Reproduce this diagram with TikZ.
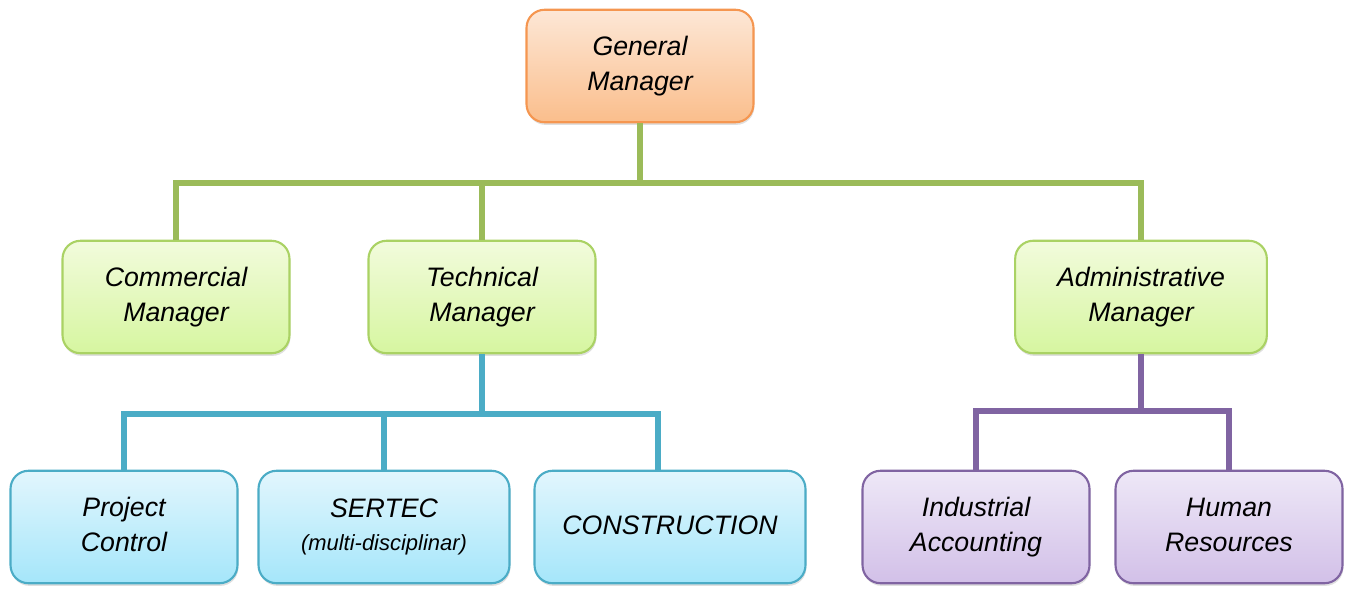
\documentclass[tikz,border=0pt]{standalone}
\usepackage{fontspec}
\setmainfont{Liberation Sans}
\usepackage{tikz}
\usetikzlibrary{shadows}

\definecolor{gmborder}{RGB}{245,150,80}
\definecolor{gmtop}{RGB}{253,231,214}
\definecolor{gmbot}{RGB}{250,190,140}
\definecolor{mgborder}{RGB}{170,210,100}
\definecolor{mgtop}{RGB}{242,251,220}
\definecolor{mgbot}{RGB}{214,246,160}
\definecolor{tcborder}{RGB}{75,172,198}
\definecolor{tctop}{RGB}{226,246,253}
\definecolor{tcbot}{RGB}{165,230,250}
\definecolor{adborder}{RGB}{128,100,162}
\definecolor{adtop}{RGB}{238,232,247}
\definecolor{adbot}{RGB}{210,192,232}
\definecolor{greenline}{RGB}{155,187,89}
\definecolor{blueline}{RGB}{75,172,198}
\definecolor{purpleline}{RGB}{128,100,162}

\begin{document}
\begin{tikzpicture}[x=0.02cm, y=-0.02cm,
    box/.style={rounded corners=0.36cm, line width=1.2pt, align=center,
        minimum height=2.25cm, text width=4.2cm,
        font=\itshape\fontsize{15.2}{20}\selectfont,
        execute at begin node=\strut, execute at end node=\strut,
        drop shadow={shadow xshift=0.5pt, shadow yshift=-1.5pt, opacity=0.25}},
    gmbox/.style={box, draw=gmborder, top color=gmtop, bottom color=gmbot, minimum width=4.54cm},
    mgbox/.style={box, draw=mgborder, top color=mgtop, bottom color=mgbot, minimum width=4.54cm},
    tcbox/.style={box, draw=tcborder, top color=tctop, bottom color=tcbot, minimum width=4.54cm},
    adbox/.style={box, draw=adborder, top color=adtop, bottom color=adbot, minimum width=4.54cm},
    link/.style={line width=3pt}]

    % Canvas
    \useasboundingbox (0,0) rectangle (1351,588);

    % Top level
    \node[gmbox] (gm) at (640,66) {General\\Manager};

    % Managers
    \node[mgbox] (cm) at (176,297) {Commercial\\Manager};
    \node[mgbox] (tm) at (482,297) {Technical\\Manager};
    \node[mgbox, minimum width=5cm, text width=4.8cm] (am) at (1141,297) {Administrative\\Manager};

    % Technical departments
    \node[tcbox] (pc) at (124,527) {Project\\Control};
    \node[tcbox, minimum width=5.02cm, text width=4.7cm] (st) at (384,527)
        {SERTEC\\[-1pt]{\fontsize{12.5}{16}\selectfont(multi-disciplinar)}};
    \node[tcbox, minimum width=5.42cm, text width=5.1cm] (co) at (670,527) {CONSTRUCTION};

    % Administrative departments
    \node[adbox] (ia) at (976,527) {Industrial\\Accounting};
    \node[adbox] (hr) at (1229,527) {Human\\Resources};

    % Junctions
    \coordinate (gbar) at (640,183);
    \coordinate (tbar) at (482,414);
    \coordinate (abar) at (1141,411);

    % General manager to managers
    \draw[link, greenline] (gm.south) -- (gbar);
    \foreach \n in {cm, tm, am} {
        \draw[link, greenline] (\n.north) |- (gbar);
    }

    % Technical manager to departments
    \draw[link, blueline] (tm.south) -- (tbar);
    \foreach \n in {pc, st} {
        \draw[link, blueline] (\n.north) |- (tbar);
    }
    \draw[link, blueline] ([xshift=-0.24cm]co.north) |- (tbar);

    % Administrative manager to departments
    \draw[link, purpleline] (am.south) -- (abar);
    \foreach \n in {ia, hr} {
        \draw[link, purpleline] (\n.north) |- (abar);
    }

\end{tikzpicture}
\end{document}
